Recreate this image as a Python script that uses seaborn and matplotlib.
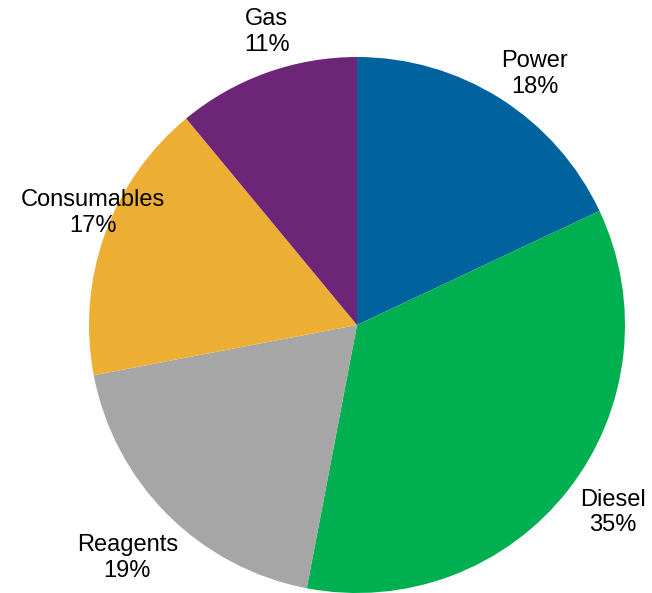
import numpy as np
import seaborn as sns
import matplotlib.pyplot as plt

# Cost breakdown (%), clockwise from 12 o'clock
categories = ["Power", "Diesel", "Reagents", "Consumables", "Gas"]
shares = [18, 35, 19, 17, 11]
colors = ["#00639E", "#00B050", "#A6A6A6", "#EDAE34", "#6D2677"]

# label placement: radius factor and angle nudge (deg) relative to wedge middle
label_r = [1.148, 1.183, 1.221, 1.070, 1.144]
label_da = [-2.9, 1.6, 0.4, -3.2, -2.7]

sns.set_theme(style="white")
plt.rcParams["font.family"] = ["Liberation Sans", "DejaVu Sans"]

fig = plt.figure(figsize=(6.52, 5.93), dpi=100)
ax = fig.add_axes([0, 0, 1, 1])

labels = [f"{c}\n{v}%" for c, v in zip(categories, shares)]
wedges, texts = ax.pie(shares, colors=colors, startangle=90, counterclock=False,
                       labels=labels, labeldistance=1.15,
                       textprops={"fontsize": 17, "color": "black"},
                       wedgeprops={"linewidth": 0})

for w, t, r, da in zip(wedges, texts, label_r, label_da):
    mid = np.deg2rad((w.theta1 + w.theta2) / 2 + da)
    t.set_position((r * np.cos(mid), r * np.sin(mid)))
    t.set_ha("center")
    t.set_va("center")
    t.set_multialignment("center")

# pie radius ~268px, center at (357, 325) px
ax.set_xlim(-357 / 268, 295 / 268)
ax.set_ylim(-268 / 268, 325 / 268)
ax.set_aspect("equal")
ax.axis("off")

fig.savefig("out.png", dpi=100)
